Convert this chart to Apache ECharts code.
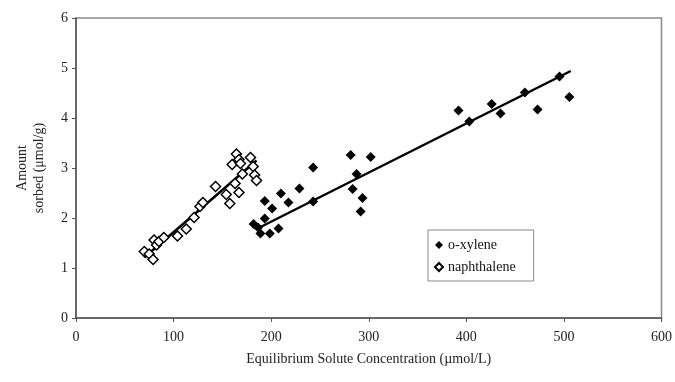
<!DOCTYPE html>
<html>
<head>
<meta charset="utf-8">
<script src="https://cdn.jsdelivr.net/npm/echarts@6/dist/echarts.min.js"></script>
<style>
  html, body { margin: 0; padding: 0; background: #fff; }
  #chart { width: 675px; height: 382px; }
</style>
</head>
<body>
<div id="chart"></div>
<script>
// o-xylene (filled diamonds): [concentration, amount sorbed]
const xyleneData = [
  [182, 1.88], [186.6, 1.81], [189, 1.69], [198.6, 1.69], [193.4, 1.99],
  [201, 2.19], [193.4, 2.34], [207.5, 1.79], [210, 2.49], [217.7, 2.31],
  [229, 2.59], [243, 3.01], [243, 2.33], [281.5, 3.26], [283.5, 2.58],
  [287.5, 2.88], [293.6, 2.4], [291.7, 2.13], [302, 3.22], [392, 4.15],
  [403, 3.93], [426, 4.28], [435, 4.09], [460, 4.51], [473, 4.17],
  [495.5, 4.83], [505.6, 4.42]
];
// naphthalene (open diamonds)
const naphData = [
  [70, 1.33], [75, 1.28], [79, 1.17], [80, 1.56], [82.5, 1.46],
  [85, 1.53], [90, 1.61], [104, 1.64], [113, 1.78], [121, 2.01],
  [127, 2.23], [130, 2.31], [143, 2.63], [154, 2.47], [157.6, 2.29],
  [160, 3.07], [163, 2.69], [164.4, 3.28], [167, 3.17], [167, 2.51],
  [168.5, 3.09], [170.5, 2.88], [178.8, 3.21], [181.5, 3.03], [183, 2.86],
  [185, 2.75]
];
// fitted lines (end points)
const xyleneFit = [[185, 1.78], [507, 4.94]];
const naphFit = [[70, 1.21], [185, 3.15]];

const diamond = 'path://M0,-1L1,0L0,1L-1,0Z';
const serif = '"Liberation Serif", "DejaVu Serif", serif';

const chart = echarts.init(document.getElementById('chart'));
chart.setOption({
  animation: false,
  textStyle: { fontFamily: serif },
  grid: {
    left: 76, right: 13, top: 18, bottom: 64,
    show: true, borderColor: '#8a8a8a', borderWidth: 1.5
  },
  legend: {
    data: ['o-xylene', 'naphthalene'],
    orient: 'vertical',
    left: 428, top: 230,
    width: 110,
    padding: [8, 18, 7, 6],
    itemGap: 8,
    itemWidth: 8, itemHeight: 8,
    borderColor: '#888', borderWidth: 1,
    textStyle: { fontFamily: serif, fontSize: 14, color: '#111' }
  },
  xAxis: {
    type: 'value', min: 0, max: 600, interval: 100,
    name: 'Equilibrium Solute Concentration (\u00b5mol/L)',
    nameLocation: 'middle', nameGap: 34,
    nameTextStyle: { fontFamily: serif, fontSize: 14, color: '#222' },
    axisLine: { show: true, lineStyle: { color: '#555', width: 1.5 } },
    axisTick: { show: true, length: 4, lineStyle: { color: '#555' } },
    axisLabel: { fontFamily: serif, fontSize: 14, color: '#222', margin: 12 },
    splitLine: { show: false }
  },
  yAxis: {
    type: 'value', min: 0, max: 6, interval: 1,
    name: 'Amount\nsorbed (\u03bcmol/g)',
    nameLocation: 'middle', nameGap: 28,
    nameTextStyle: { fontFamily: serif, fontSize: 14, color: '#222', lineHeight: 17 },
    axisLine: { show: true, lineStyle: { color: '#555', width: 1.5 } },
    axisTick: { show: true, length: 4, lineStyle: { color: '#555' } },
    axisLabel: { fontFamily: serif, fontSize: 14, color: '#222', margin: 8 },
    splitLine: { show: false }
  },
  series: [
    {
      name: 'o-xylene', type: 'scatter', data: xyleneData,
      symbol: diamond, symbolSize: 10,
      itemStyle: { color: '#000', opacity: 1 }
    },
    {
      name: 'naphthalene', type: 'scatter', data: naphData,
      symbol: diamond, symbolSize: 10,
      itemStyle: { color: '#fff', borderColor: '#000', borderWidth: 1.5, opacity: 1 }
    },
    {
      name: 'o-xylene fit', type: 'line', data: xyleneFit,
      symbol: 'none', lineStyle: { color: '#000', width: 2.5 }, z: 1
    },
    {
      name: 'naphthalene fit', type: 'line', data: naphFit,
      symbol: 'none', lineStyle: { color: '#000', width: 2.5 }, z: 1
    }
  ]
});
</script>
</body>
</html>
